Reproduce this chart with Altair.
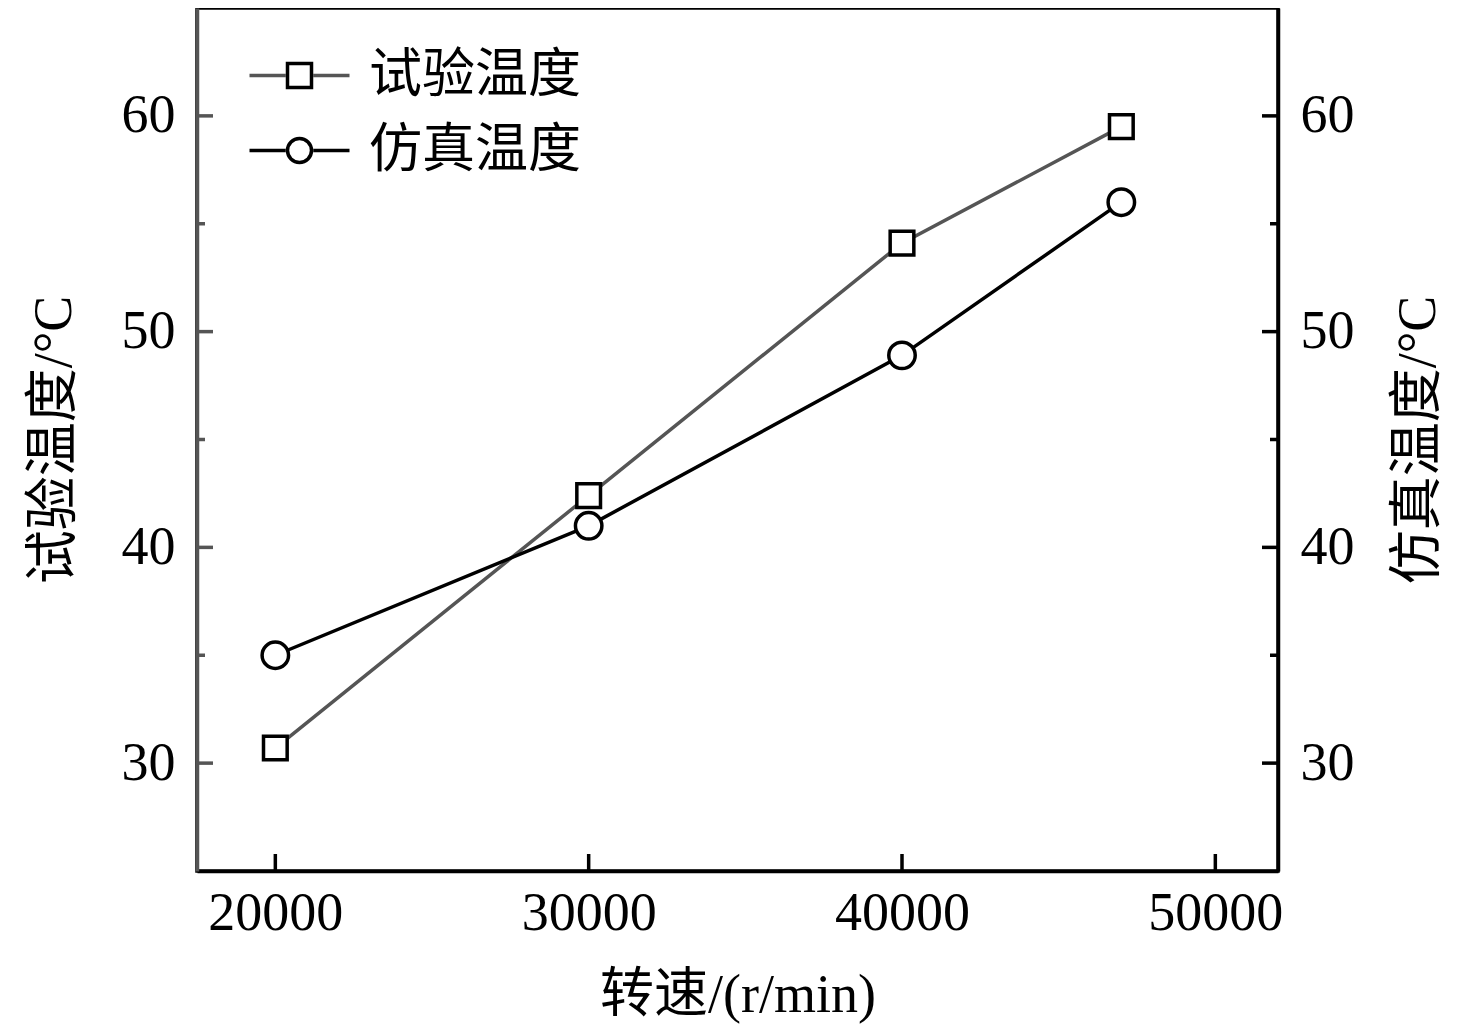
import altair as alt
import pandas as pd

# ---- data ----
rpm = [20000, 30000, 40000, 47000]
test_temp = [30.7, 42.4, 54.1, 59.5]
sim_temp = [35.0, 41.0, 48.9, 56.0]
series_names = ["试验温度", "仿真温度"]
marker_keys = ["m_test", "m_sim"]
major_y = [30, 40, 50, 60]
minor_y = [35, 45, 55]
x_ticks = [20000, 30000, 40000, 50000]

W, H = 1081, 863
FONT = "Liberation Serif, Noto Sans CJK SC"
GRAY = "#555555"
LW = 3.5

df_test = pd.DataFrame({"rpm": rpm, "value": test_temp,
                        "series": series_names[0], "marker": marker_keys[0]})
df_sim = pd.DataFrame({"rpm": rpm, "value": sim_temp,
                       "series": series_names[1], "marker": marker_keys[1]})
df_major = pd.DataFrame({"value": major_y})
df_minor = pd.DataFrame({"value": minor_y})
df_xt = pd.DataFrame({"rpm": x_ticks})

xscale = alt.Scale(domain=[17500, 52000], nice=False, zero=False)
yscale = alt.Scale(domain=[25, 65], nice=False, zero=False)

x_axis = alt.Axis(title="转速/(r/min)", values=x_ticks, format="d",
                  domainColor="black", labelPadding=15, titlePadding=28)
yl_axis = alt.Axis(title="试验温度/°C", values=major_y, orient="left",
                   domainColor=GRAY, labelPadding=22, titlePadding=40)
yr_axis = alt.Axis(title="仿真温度/°C", values=major_y, orient="right",
                   domainColor="black", labelPadding=22, titlePadding=91,
                   titleAngle=270)

LEG_Y = 41
LEG_X = 76
color = alt.Color(
    "series:N",
    scale=alt.Scale(domain=series_names, range=[GRAY, "#000000"]),
    legend=alt.Legend(title=None, orient="none", legendX=LEG_X, legendY=LEG_Y,
                      symbolType="M-4,0H-1.1M1.1,0H4", symbolSize=625,
                      symbolStrokeWidth=LW, labelFontSize=53, labelFont=FONT,
                      labelOffset=43, rowPadding=21, padding=0, labelLimit=0,
                      labelColor="black"),
)
marker_legend = alt.Legend(title=None, orient="top-left", offset=LEG_Y,
                           symbolOffset=LEG_X - LEG_Y,
                           symbolSize=576, symbolStrokeWidth=LW,
                           symbolOpacity=1, labelExpr="' '",
                           labelFontSize=53, labelFont=FONT, labelOpacity=0,
                           rowPadding=21, padding=0)
shape = alt.Shape(
    "marker:N",
    scale=alt.Scale(domain=marker_keys, range=["square", "circle"]),
    legend=marker_legend,
)
stroke = alt.Stroke(
    "marker:N",
    scale=alt.Scale(domain=marker_keys, range=["#000000", "#000000"]),
    legend=marker_legend,
)

X = alt.X("rpm:Q", scale=xscale, axis=x_axis)
YL = alt.Y("value:Q", scale=yscale, axis=yl_axis)
YR = alt.Y("value:Q", scale=yscale, axis=yr_axis)

test_line = alt.Chart(df_test).mark_line(strokeWidth=LW).encode(
    x=X, y=YL, color=color)
test_pts = alt.Chart(df_test).mark_point(
    filled=False, fill="white", fillOpacity=1,
    strokeWidth=LW, size=560, opacity=1
).encode(x=X, y=YL, shape=shape, stroke=stroke)

xt = alt.Chart(df_xt).mark_rule(color="black", strokeWidth=LW).encode(
    x=X, y=alt.value(H - 17), y2=alt.value(H))
yl_major = alt.Chart(df_major).mark_rule(color=GRAY, strokeWidth=LW).encode(
    y=YL, x=alt.value(0), x2=alt.value(16))
yl_minor = alt.Chart(df_minor).mark_rule(color=GRAY, strokeWidth=LW).encode(
    y=YL, x=alt.value(0), x2=alt.value(8))

sim_line = alt.Chart(df_sim).mark_line(strokeWidth=LW).encode(
    x=X, y=YR, color=color)
sim_pts = alt.Chart(df_sim).mark_point(
    filled=False, fill="white", fillOpacity=1,
    strokeWidth=LW, size=700, opacity=1
).encode(x=X, y=YR, shape=shape, stroke=stroke)
yr_major = alt.Chart(df_major).mark_rule(color="black", strokeWidth=LW).encode(
    y=YR, x=alt.value(W - 16), x2=alt.value(W))
yr_minor = alt.Chart(df_minor).mark_rule(color="black", strokeWidth=LW).encode(
    y=YR, x=alt.value(W - 8), x2=alt.value(W))

left = alt.layer(test_line, test_pts, xt, yl_major, yl_minor)
right = alt.layer(sim_line, sim_pts, yr_major, yr_minor)

chart = alt.layer(left, right).resolve_scale(y="independent").properties(
    width=W, height=H,
    autosize=alt.AutoSizeParams(type="none"),
    padding={"left": 189, "top": 0, "right": 190, "bottom": 157},
).configure_view(
    stroke="black", strokeWidth=LW
).configure_axis(
    grid=False, ticks=False, domainWidth=LW,
    labelFont="Liberation Serif", labelFontSize=54, labelColor="black",
    titleFont=FONT, titleFontSize=54, titleFontWeight="normal",
    titleColor="black",
)

chart.save("out.html", embed_options={"renderer": "svg", "actions": False})
